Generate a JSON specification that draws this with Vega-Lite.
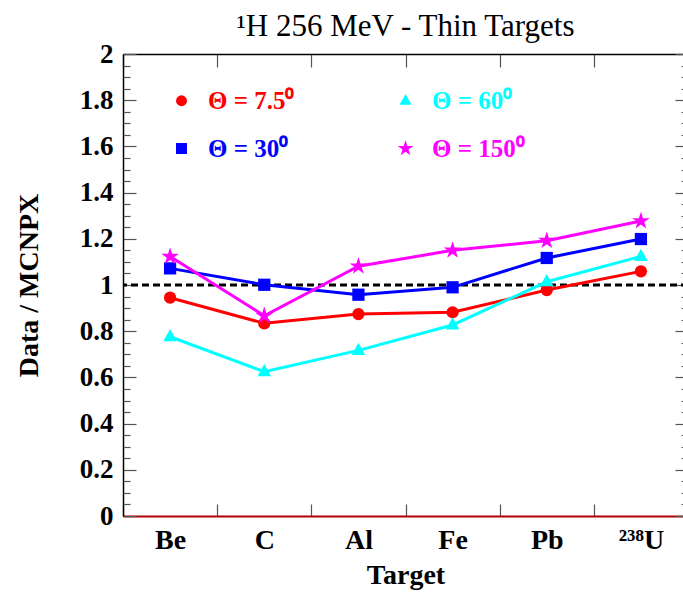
{
  "$schema": "https://vega.github.io/schema/vega-lite/v6.json",
  "width": 565,
  "height": 462,
  "autosize": {"type": "none"},
  "padding": {"left": 123, "top": 54, "right": 0, "bottom": 77},
  "background": "white",
  "config": {
    "font": "Liberation Serif",
    "view": {"stroke": null},
    "axis": {"domainColor": "black", "domainWidth": 1.5, "tickColor": "#555555", "tickWidth": 1.2, "grid": false}
  },
  "title": {
    "text": "¹H 256 MeV - Thin Targets",
    "font": "Liberation Serif",
    "fontSize": 31,
    "fontWeight": "normal",
    "color": "black",
    "anchor": "middle",
    "baseline": "alphabetic",
    "offset": -27
  },
  "datasets": {
    "ratios": [
      {"target": "Be", "angle": "Θ = 7.5⁰", "ratio": 0.945},
      {"target": "C", "angle": "Θ = 7.5⁰", "ratio": 0.834},
      {"target": "Al", "angle": "Θ = 7.5⁰", "ratio": 0.874},
      {"target": "Fe", "angle": "Θ = 7.5⁰", "ratio": 0.882},
      {"target": "Pb", "angle": "Θ = 7.5⁰", "ratio": 0.978},
      {"target": "²³⁸U", "angle": "Θ = 7.5⁰", "ratio": 1.059},
      {"target": "Be", "angle": "Θ = 30⁰", "ratio": 1.072},
      {"target": "C", "angle": "Θ = 30⁰", "ratio": 1.001},
      {"target": "Al", "angle": "Θ = 30⁰", "ratio": 0.958},
      {"target": "Fe", "angle": "Θ = 30⁰", "ratio": 0.99},
      {"target": "Pb", "angle": "Θ = 30⁰", "ratio": 1.117},
      {"target": "²³⁸U", "angle": "Θ = 30⁰", "ratio": 1.199},
      {"target": "Be", "angle": "Θ = 60⁰", "ratio": 0.776},
      {"target": "C", "angle": "Θ = 60⁰", "ratio": 0.625},
      {"target": "Al", "angle": "Θ = 60⁰", "ratio": 0.717},
      {"target": "Fe", "angle": "Θ = 60⁰", "ratio": 0.827},
      {"target": "Pb", "angle": "Θ = 60⁰", "ratio": 1.014},
      {"target": "²³⁸U", "angle": "Θ = 60⁰", "ratio": 1.124},
      {"target": "Be", "angle": "Θ = 150⁰", "ratio": 1.123},
      {"target": "C", "angle": "Θ = 150⁰", "ratio": 0.867},
      {"target": "Al", "angle": "Θ = 150⁰", "ratio": 1.081},
      {"target": "Fe", "angle": "Θ = 150⁰", "ratio": 1.15},
      {"target": "Pb", "angle": "Θ = 150⁰", "ratio": 1.192},
      {"target": "²³⁸U", "angle": "Θ = 150⁰", "ratio": 1.277}
    ],
    "reference": [{"level": 1}]
  },
  "data": {"name": "ratios"},
  "resolve": {"axis": {"x": "independent", "y": "independent"}},
  "layer": [
    {
      "data": {"name": "reference"},
      "mark": {"type": "rule", "color": "black", "strokeWidth": 3, "strokeDash": [7, 4]},
      "encoding": {
        "y": {
          "field": "level",
          "type": "quantitative",
          "scale": {"domain": [0, 2], "nice": false},
          "axis": {
            "orient": "right",
            "values": [0, 0.2, 0.4, 0.6, 0.8, 1, 1.2, 1.4, 1.6, 1.8, 2],
            "tickSize": -13,
            "labels": false,
            "title": null
          }
        }
      }
    },
    {
      "encoding": {
        "x": {
          "field": "target",
          "type": "nominal",
          "sort": ["Be", "C", "Al", "Fe", "Pb", "²³⁸U"],
          "scale": {"paddingInner": 0, "paddingOuter": 0},
          "axis": {
            "orient": "bottom",
            "tickBand": "extent",
            "tickSize": -12,
            "labelPadding": 22,
            "labelAngle": 0,
            "labelFontSize": 28,
            "labelFontWeight": "bold",
            "labelColor": "black",
            "domainColor": "#b00000",
            "domainWidth": 2,
            "title": "Target",
            "titleFontSize": 28,
            "titleFontWeight": "bold",
            "titleColor": "black",
            "titlePadding": 7,
            "encode": {"labels": {"update": {"dx": {"signal": "datum.value === '²³⁸U' ? -14 : 0"}}}}
          }
        },
        "y": {
          "field": "ratio",
          "type": "quantitative",
          "scale": {"domain": [0, 2], "nice": false},
          "axis": {
            "orient": "left",
            "values": [0, 0.2, 0.4, 0.6, 0.8, 1, 1.2, 1.4, 1.6, 1.8, 2],
            "format": ".1~f",
            "tickSize": -13,
            "labelPadding": 23,
            "labelFontSize": 27,
            "labelFontWeight": "bold",
            "labelColor": "black",
            "title": "Data / MCNPX",
            "titleFontSize": 28,
            "titleFontWeight": "bold",
            "titleColor": "black",
            "titlePadding": 36
          }
        },
        "color": {
          "field": "angle",
          "type": "nominal",
          "scale": {
            "domain": ["Θ = 7.5⁰", "Θ = 60⁰", "Θ = 30⁰", "Θ = 150⁰"],
            "range": ["#ff0000", "#00ffff", "#0000ff", "#ff00ff"]
          },
          "legend": {
            "title": null,
            "orient": "none",
            "legendX": 46,
            "legendY": 34,
            "direction": "horizontal",
            "columns": 2,
            "padding": 0,
            "columnPadding": 98,
            "rowPadding": 22,
            "symbolSize": 120,
            "symbolStrokeWidth": 0,
            "labelFontSize": 25,
            "labelFontWeight": "bold",
            "labelOffset": 14,
            "labelLimit": 300,
            "encode": {"labels": {"update": {"fill": {"scale": "color", "field": "value"}}}}
          }
        }
      },
      "layer": [
        {"mark": {"type": "line", "strokeWidth": 3}},
        {
          "mark": {"type": "point", "filled": true, "opacity": 1, "size": 150},
          "encoding": {
            "shape": {
              "field": "angle",
              "type": "nominal",
              "scale": {
                "domain": ["Θ = 7.5⁰", "Θ = 60⁰", "Θ = 30⁰", "Θ = 150⁰"],
                "range": [
                  "circle",
                  "M0,-1.25L1.1,0.75L-1.1,0.75Z",
                  "square",
                  "M0,-1.5L0.337,-0.464L1.427,-0.464L0.545,0.177L0.882,1.214L0,0.573L-0.882,1.214L-0.545,0.177L-1.427,-0.464L-0.337,-0.464Z"
                ]
              },
              "legend": {
                "title": null,
                "orient": "none",
                "legendX": 46,
                "legendY": 34,
                "direction": "horizontal",
                "columns": 2,
                "padding": 0,
                "columnPadding": 98,
                "rowPadding": 22,
                "symbolSize": 120,
                "symbolStrokeWidth": 0,
                "labelFontSize": 25,
                "labelFontWeight": "bold",
                "labelOffset": 14,
                "labelLimit": 300,
                "encode": {"labels": {"update": {"fill": {"scale": "color", "field": "value"}}}}
              }
            }
          }
        }
      ]
    },
    {
      "mark": {"type": "point", "opacity": 0},
      "encoding": {
        "x": {
          "field": "target",
          "type": "nominal",
          "sort": ["Be", "C", "Al", "Fe", "Pb", "²³⁸U"],
          "axis": {"orient": "top", "tickBand": "extent", "tickSize": -13, "labels": false, "title": null}
        },
        "y": {
          "field": "ratio",
          "type": "quantitative",
          "axis": {
            "orient": "left",
            "values": [0.05, 0.1, 0.15, 0.25, 0.3, 0.35, 0.45, 0.5, 0.55, 0.65, 0.7, 0.75, 0.85, 0.9, 0.95, 1.05, 1.1, 1.15, 1.25, 1.3, 1.35, 1.45, 1.5, 1.55, 1.65, 1.7, 1.75, 1.85, 1.9, 1.95],
            "tickSize": -7,
            "labels": false,
            "domain": false,
            "title": null
          }
        }
      }
    },
    {
      "mark": {"type": "point", "opacity": 0},
      "encoding": {
        "y": {
          "field": "ratio",
          "type": "quantitative",
          "axis": {
            "orient": "right",
            "values": [0.05, 0.1, 0.15, 0.25, 0.3, 0.35, 0.45, 0.5, 0.55, 0.65, 0.7, 0.75, 0.85, 0.9, 0.95, 1.05, 1.1, 1.15, 1.25, 1.3, 1.35, 1.45, 1.5, 1.55, 1.65, 1.7, 1.75, 1.85, 1.9, 1.95],
            "tickSize": -7,
            "labels": false,
            "domain": false,
            "title": null
          }
        }
      }
    }
  ]
}
